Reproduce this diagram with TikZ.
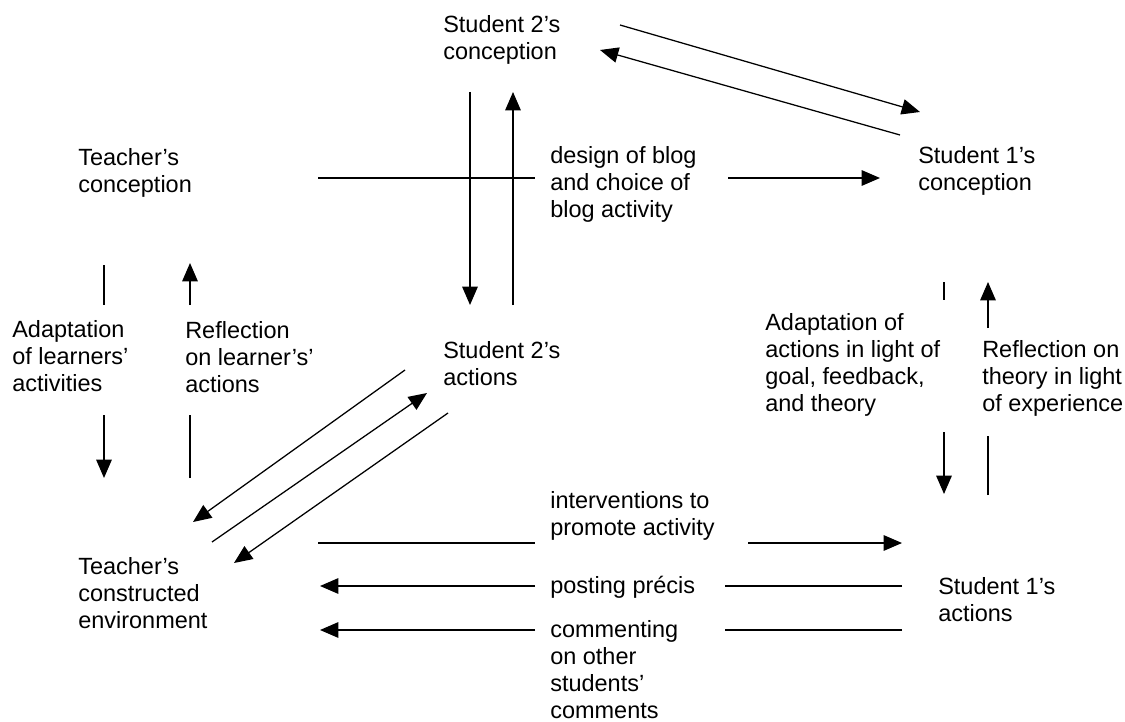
\documentclass[tikz,border=0pt]{standalone}
\usepackage{fontspec}
\setmainfont{Liberation Sans}
\usetikzlibrary{arrows.meta}
\tikzset{
  lbl/.style={align=left, anchor=west, inner sep=0pt,
    font=\fontsize{16.7}{19.2}\selectfont},
  link/.style={line width=0.9pt},
  tip/.style={link, -{Triangle[length=13pt,width=11pt]}}
}
\begin{document}
\begin{tikzpicture}[x=0.025cm, y=-0.025cm, every node/.style={lbl}]
      \useasboundingbox (0,0) rectangle (1125,722);
      \draw
        (443,40) node (s2c){Student 2's\\conception}
        (78,173) node (tc){Teacher's\\conception}
        (550,184) node (design){design of blog\\and choice of\\blog activity}
        (918,171) node (s1c){Student 1's\\conception}
        (12,356) node (adapt){Adaptation\\of learners'\\activities}
        (185,357) node (refl){Reflection\\on learner's'\\actions}
        (443,364) node (s2a){Student 2's\\actions}
        (765,365) node (adapt1){Adaptation of\\actions in light of\\goal, feedback,\\and theory}
        (982,378) node (refl1){Reflection on\\theory in light\\of experience}
        (550,516) node (interv){interventions to\\promote activity}
        (78,593) node (env){Teacher's\\constructed\\environment}
        (550,587) node (precis){posting précis}
        (938,600) node (s1a){Student 1's\\actions}
        (550,670) node (comm){commenting\\on other\\students'\\comments};
      % line ends
      \coordinate (t1) at (620,25);  \coordinate (t2) at (920,112);
      \coordinate (t3) at (900,135); \coordinate (t4) at (600,50);
      \coordinate (h1) at (318,178); \coordinate (h2) at (535,178);
      \coordinate (h3) at (728,178); \coordinate (h4) at (880,178);
      \coordinate (v1) at (470,92);  \coordinate (v2) at (470,305);
      \coordinate (v3) at (513,305); \coordinate (v4) at (513,92);
      \coordinate (l1) at (104,265); \coordinate (l2) at (104,305);
      \coordinate (l3) at (104,415); \coordinate (l4) at (104,478);
      \coordinate (r1) at (190,478); \coordinate (r2) at (190,415);
      \coordinate (r3) at (190,305); \coordinate (r4) at (190,263);
      \coordinate (a1) at (944,282); \coordinate (a2) at (944,300);
      \coordinate (a3) at (944,432); \coordinate (a4) at (944,494);
      \coordinate (b1) at (988,495); \coordinate (b2) at (988,436);
      \coordinate (b3) at (988,328); \coordinate (b4) at (988,282);
      \coordinate (d1) at (405,370); \coordinate (d2) at (193,522);
      \coordinate (d3) at (212,542); \coordinate (d4) at (427,393);
      \coordinate (d5) at (448,413); \coordinate (d6) at (234,563);
      \coordinate (i1) at (318,543); \coordinate (i2) at (535,543);
      \coordinate (i3) at (748,543); \coordinate (i4) at (902,543);
      \coordinate (p1) at (902,586); \coordinate (p2) at (725,586);
      \coordinate (p3) at (535,586); \coordinate (p4) at (320,586);
      \coordinate (c1) at (902,630); \coordinate (c2) at (725,630);
      \coordinate (c3) at (535,630); \coordinate (c4) at (320,630);
      \begin{scope}[link]
        \draw[tip] (t1) to (t2);
        \draw[tip] (t3) to (t4);
        \draw (h1) to (h2);
        \draw[tip] (h3) to (h4);
        \draw[tip] (v1) to (v2);
        \draw[tip] (v3) to (v4);
        \draw (l1) to (l2);
        \draw[tip] (l3) to (l4);
        \draw (r1) to (r2);
        \draw[tip] (r3) to (r4);
        \draw (a1) to (a2);
        \draw[tip] (a3) to (a4);
        \draw (b1) to (b2);
        \draw[tip] (b3) to (b4);
        \draw[tip] (d1) to (d2);
        \draw[tip] (d3) to (d4);
        \draw[tip] (d5) to (d6);
        \draw (i1) to (i2);
        \draw[tip] (i3) to (i4);
        \draw (p1) to (p2);
        \draw[tip] (p3) to (p4);
        \draw (c1) to (c2);
        \draw[tip] (c3) to (c4);
      \end{scope}
    \end{tikzpicture}
\end{document}
